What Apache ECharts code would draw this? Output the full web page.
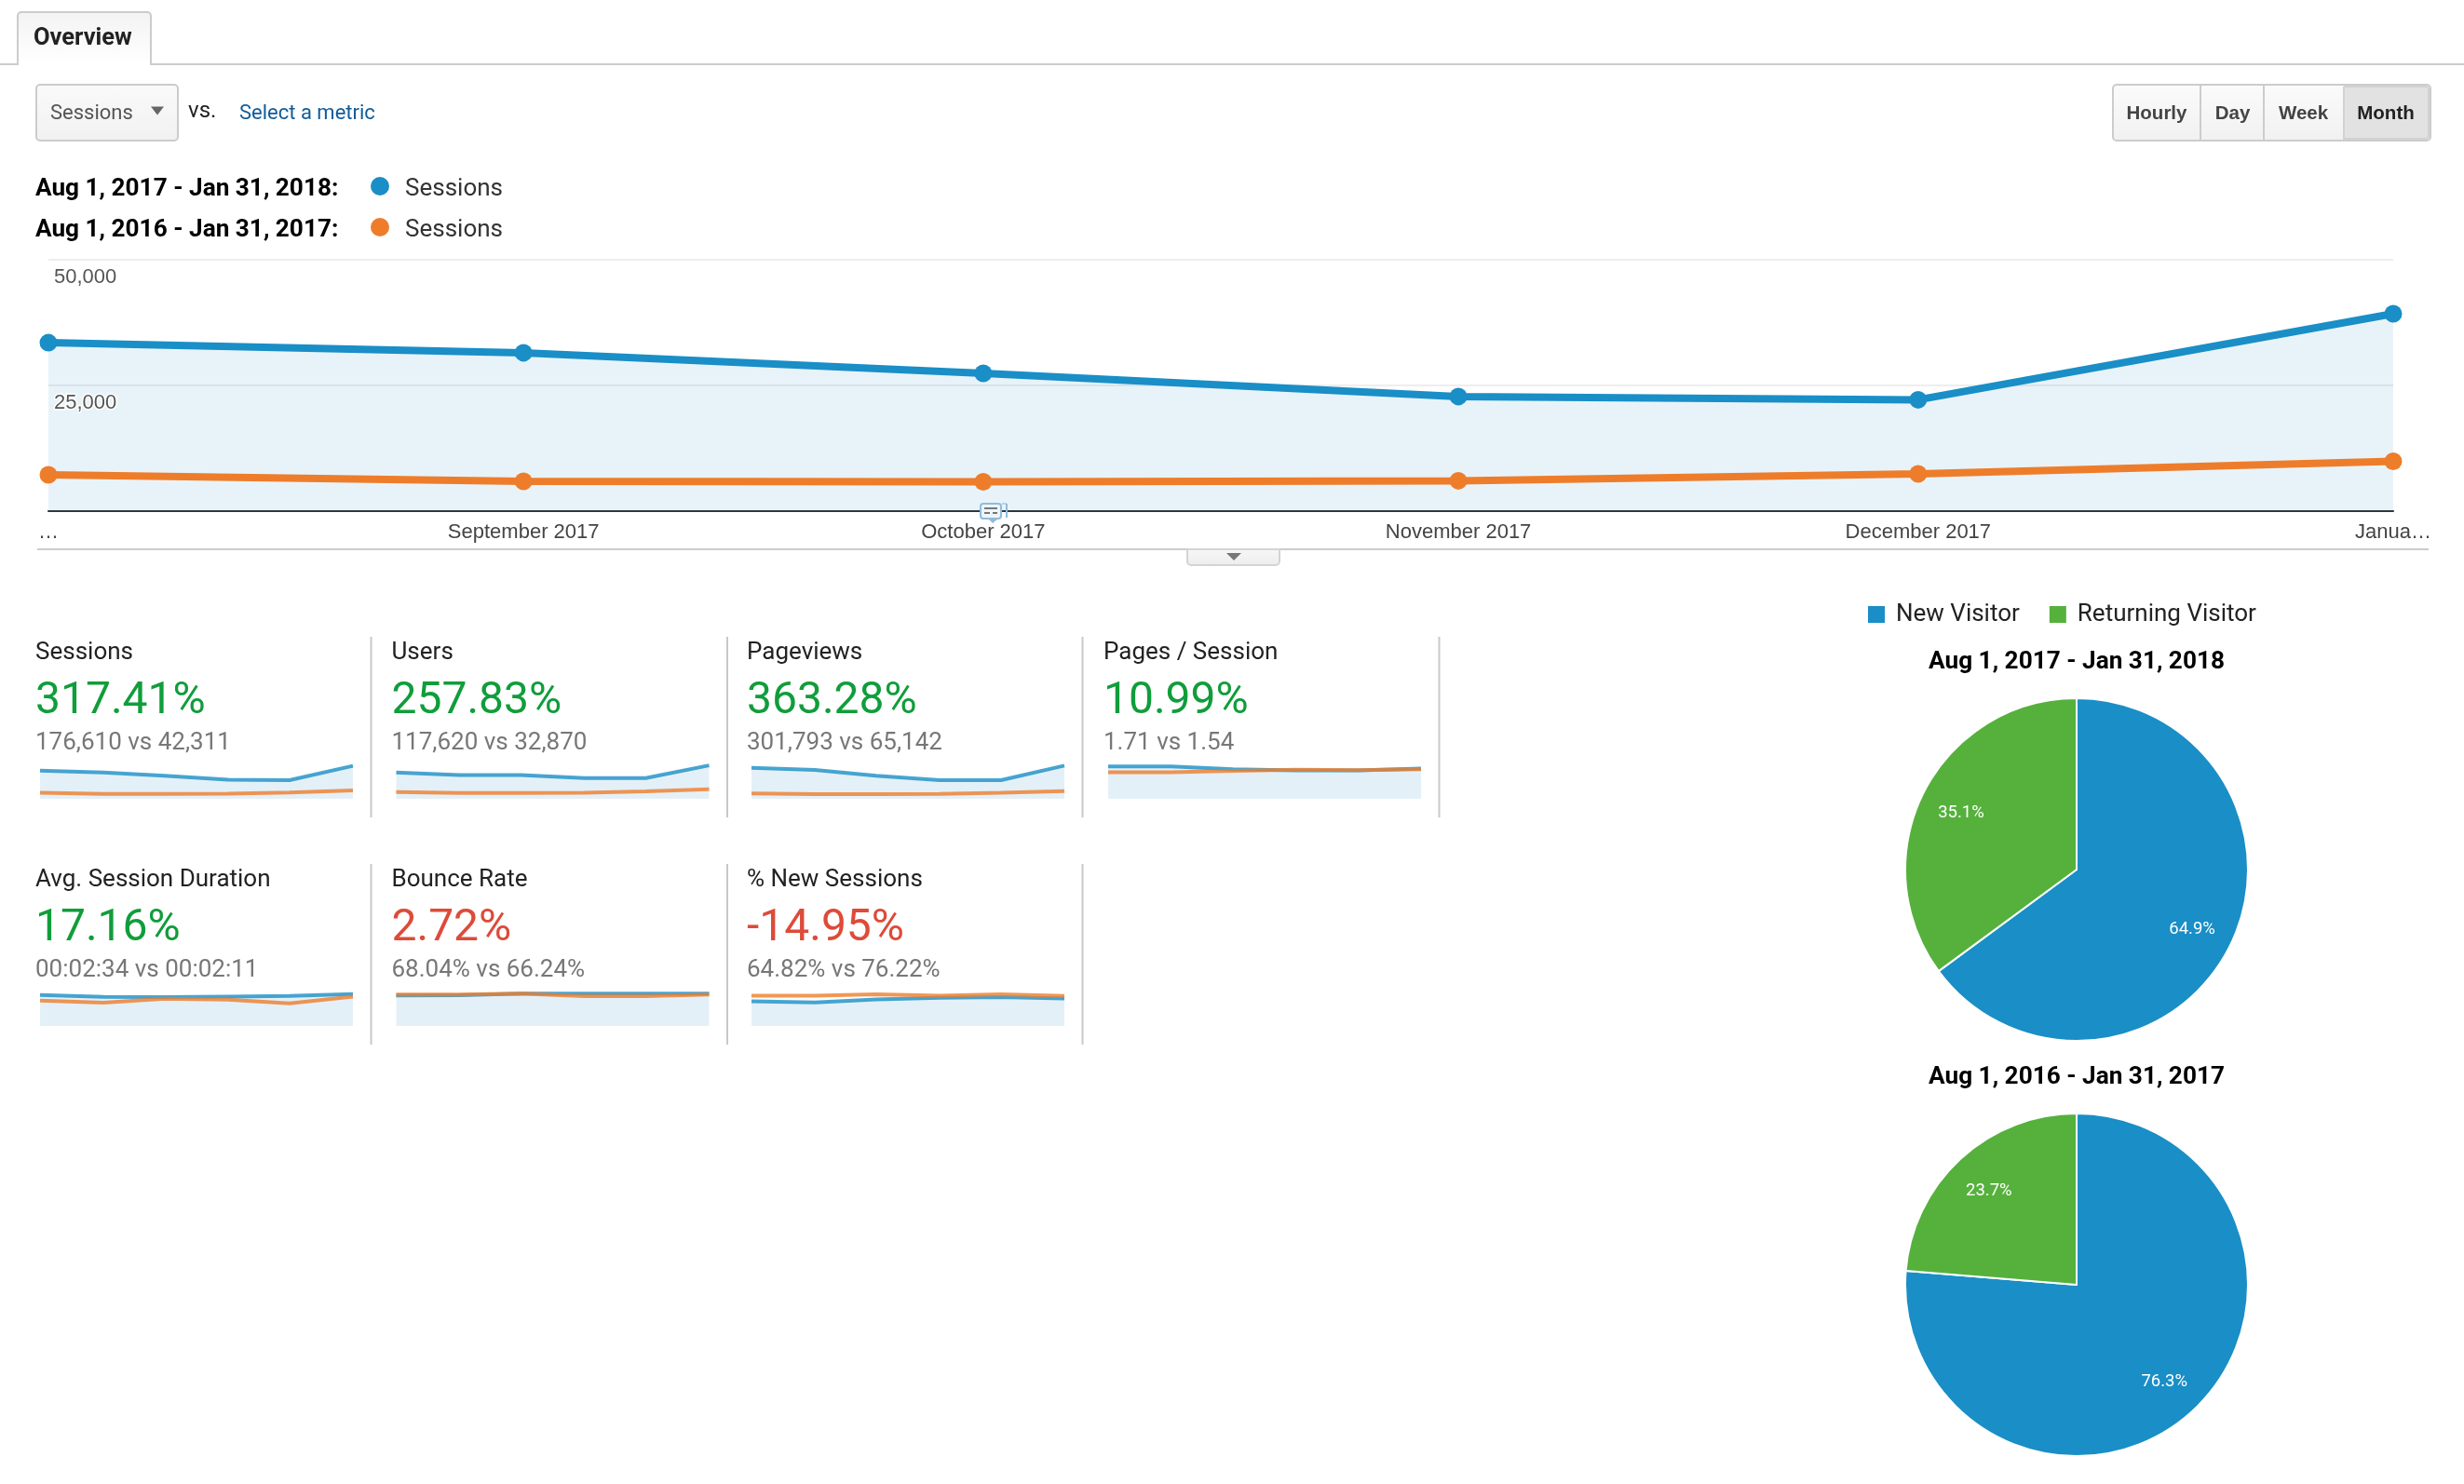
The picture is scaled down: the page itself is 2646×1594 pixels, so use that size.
<!DOCTYPE html>
<html>
<head>
<meta charset="utf-8">
<title>Overview</title>
<script src="https://cdn.jsdelivr.net/npm/echarts@6/dist/echarts.min.js"></script>
<style>
    html, body { margin: 0; padding: 0; background: #fff; }
    #main { width: 2646px; height: 1594px; }
</style>
</head>
<body>
<div id="main"></div>
<script>
var months = ['2017-08-01', '2017-09-01', '2017-10-01', '2017-11-01', '2017-12-01', '2018-01-01'];
var monthLabels = ['…', 'September 2017', 'October 2017', 'November 2017', 'December 2017', 'Janua…'];
var yTicks = ['', '25,000', '50,000'];

var sessionsNow = [33500, 31500, 27400, 22800, 22150, 39260];
var sessionsPrev = [7220, 5930, 5830, 6040, 7400, 9891];
var usersNow = [20860, 18850, 18850, 16340, 16340, 26380];
var usersPrev = [5300, 4650, 4650, 4700, 5950, 7620];
var pageviewsNow = [60980, 56630, 45430, 36710, 36710, 65333];
var pageviewsPrev = [10640, 8960, 8960, 9520, 11760, 15302];
var pagesPerNow = [1.83, 1.83, 1.67, 1.61, 1.61, 1.72];
var pagesPerPrev = [1.50, 1.50, 1.58, 1.65, 1.62, 1.67];
var durationNow = [159, 149, 148, 151, 154, 164];
var durationPrev = [130, 120, 140, 135, 116, 151];
var bounceNow = [64.4, 65.0, 68.3, 68.3, 68.3, 68.3];
var bouncePrev = [66.4, 66.4, 68.4, 63.0, 63.0, 66.4];
var newSessNow = [61.3, 58.2, 65.9, 69.8, 71.4, 68.2];
var newSessPrev = [75.2, 75.2, 78.3, 75.2, 78.3, 74.5];

var cardTitles = ['Sessions', 'Users', 'Pageviews', 'Pages / Session', 'Avg. Session Duration', 'Bounce Rate', '% New Sessions'];
var cardChanges = ['317.41%', '257.83%', '363.28%', '10.99%', '17.16%', '2.72%', '-14.95%'];
var cardCompare = ['176,610 vs 42,311', '117,620 vs 32,870', '301,793 vs 65,142', '1.71 vs 1.54', '00:02:34 vs 00:02:11', '68.04% vs 66.24%', '64.82% vs 76.22%'];
var cardNow = [sessionsNow, usersNow, pageviewsNow, pagesPerNow, durationNow, bounceNow, newSessNow];
var cardPrev = [sessionsPrev, usersPrev, pageviewsPrev, pagesPerPrev, durationPrev, bouncePrev, newSessPrev];
var cardMax = [40000, 26500, 66000, 1.9, 172, 71, 83];
var cardBad = [false, false, false, false, false, true, true];

var visitorNames = ['New Visitor', 'Returning Visitor'];
var rangeNow = 'Aug 1, 2017 - Jan 31, 2018';
var rangePrev = 'Aug 1, 2016 - Jan 31, 2017';
var visitorsNow = [64.9, 35.1];
var visitorsPrev = [76.3, 23.7];

var BLUE = '#1a8ec6', ORANGE = '#ee7d2b', GREEN = '#55b13c';
var GOOD_TEXT = '#109d3b', BAD_TEXT = '#dd4b39';
var FONT = 'Roboto';

// x axes are plain value axes holding timestamps, so month lengths keep their spacing
function toTime(s) {
    return new Date(s + 'T00:00:00').getTime();
}
function pairs(values) {
    return values.map(function (v, i) {
        return [toTime(months[i]), v];
    });
}

var graphics = [];

function txt(x, y, text, size, color, weight, align, family) {
    graphics.push({
        type: 'text', x: x, y: y, silent: true, z: 20,
        style: {
            text: text,
            font: (weight || 'normal') + ' ' + size + 'px "' + (family || FONT) + '"',
            fill: color,
            align: align || 'left',
            textAlign: align || 'left',
            verticalAlign: 'middle',
            textVerticalAlign: 'middle'
        }
    });
}
function ln(x1, y1, x2, y2, color, w, z) {
    graphics.push({
        type: 'line', silent: true, z: z || 1,
        shape: { x1: x1, y1: y1, x2: x2, y2: y2 },
        style: { stroke: color, lineWidth: w || 2 }
    });
}
function box(x, y, w, h, r, fill, stroke, z) {
    graphics.push({
        type: 'rect', silent: true, z: z || 1,
        shape: { x: x, y: y, width: w, height: h, r: r },
        style: { fill: fill, stroke: stroke, lineWidth: stroke ? 2 : 0 }
    });
}
function grad(top, bottom) {
    return new echarts.graphic.LinearGradient(0, 0, 0, 1, [
        { offset: 0, color: top },
        { offset: 1, color: bottom }
    ]);
}
function tri(x, y, w, h, color) {
    graphics.push({
        type: 'polygon', silent: true, z: 5,
        shape: { points: [[x - w / 2, y - h / 2], [x + w / 2, y - h / 2], [x, y + h / 2]] },
        style: { fill: color }
    });
}

// tab strip
ln(0, 69, 2646, 69, '#cccccc', 2);
box(19, 13, 143, 56, [4, 4, 0, 0], grad('#f3f3f3', '#ffffff'), '#cccccc', 2);
ln(20, 69, 161, 69, '#ffffff', 3, 3);
txt(36, 42, 'Overview', 25.5, '#222222', 'bold');

// metric selector
box(39, 91, 152, 60, 4, grad('#fafafa', '#f1f1f1'), '#cccccc');
txt(54, 122, 'Sessions', 22, '#555555');
tri(169, 119, 14, 9, '#666666');
txt(202, 120, 'vs.', 24, '#222222');
txt(257, 122, 'Select a metric', 22, '#0f5c9a');

// hourly..month buttons
box(2269, 91, 341, 60, 4, grad('#fbfbfb', '#f1f1f1'), '#cccccc');
box(2517, 93, 91, 56, [0, 3, 3, 0], '#e2e2e2', '#d2d2d2', 2);
ln(2363, 92, 2363, 150, '#cccccc', 2);
ln(2431, 92, 2431, 150, '#cccccc', 2);
txt(2316, 122, 'Hourly', 20.5, '#444444', 'bold', 'center', 'Liberation Sans');
txt(2397.5, 122, 'Day', 20.5, '#444444', 'bold', 'center', 'Liberation Sans');
txt(2473.5, 122, 'Week', 20.5, '#444444', 'bold', 'center', 'Liberation Sans');
txt(2562, 122, 'Month', 20.5, '#222222', 'bold', 'center', 'Liberation Sans');

// date range legend of the top chart
txt(38, 203, rangeNow + ':', 26.2, '#000000', 'bold');
txt(38, 247, rangePrev + ':', 26.2, '#000000', 'bold');
[[200, BLUE], [244, ORANGE]].forEach(function (row) {
    graphics.push({
        type: 'circle', silent: true, z: 5,
        shape: { cx: 408, cy: row[0], r: 10 },
        style: { fill: row[1] }
    });
    txt(435, row[0] + 3, 'Sessions', 26, '#333333');
});

// rule under the chart and its little collapse button
ln(40, 590, 2608, 590, '#cccccc', 2);
box(1275, 590, 99, 17, [0, 0, 4, 4], grad('#f8f8f8', '#ececec'), '#d4d4d4', 0);
tri(1325, 598, 16, 8, '#777777');

// annotation marker on the axis
box(1053, 541, 22, 16, 3, '#eef5fa', '#8fbcdc', 10);
ln(1076, 541, 1081, 541, '#b5d3e8', 2, 10);
ln(1081, 541, 1081, 556, '#8fbcdc', 2, 10);
ln(1057, 546, 1071, 546, '#777777', 2, 11);
ln(1057, 551, 1063, 551, '#777777', 2, 11);
ln(1066, 551, 1071, 551, '#777777', 2, 11);
graphics.push({
    type: 'polygon', silent: true, z: 10,
    shape: { points: [[1061, 557], [1072, 557], [1066, 562]] },
    style: { fill: '#8fbcdc' }
});

var cardX = [38, 420.5, 802, 1185];
var cardRowY = [0, 244];
var cardBoxes = [];
cardTitles.forEach(function (title, i) {
    var col = i < 4 ? i : i - 4;
    var row = i < 4 ? 0 : 1;
    var x = cardX[col];
    var dy = cardRowY[row];
    txt(x, 701.5 + dy, title, 26, '#222222');
    txt(x, 754 + dy, cardChanges[i], 48, cardBad[i] ? BAD_TEXT : GOOD_TEXT);
    txt(x, 798 + dy, cardCompare[i], 26, '#777777');
    ln(x + 360.5, 684 + dy, x + 360.5, 878 + dy, '#c8c8c8', 2);
    cardBoxes.push({ left: x + 5, top: 822 + dy, width: 336, height: 36 });
});

// main chart goes first, sparklines follow on grids 1..7
var grids = [{ left: 52, top: 279, width: 2518, height: 270 }];
var xAxes = [{
    type: 'value',
    scale: true,
    min: toTime(months[0]),
    max: toTime(months[5]),
    axisLine: { onZero: false, lineStyle: { color: '#333333', width: 2 } },
    axisTick: { show: false },
    splitLine: { show: false },
    axisLabel: {
        customValues: months.map(toTime),
        formatter: function (value) {
            for (var i = 0; i < months.length; i++) {
                if (toTime(months[i]) == value) return monthLabels[i];
            }
            return '';
        },
        color: '#444444',
        fontFamily: 'Liberation Sans',
        fontSize: 22,
        margin: 12,
        hideOverlap: false
    }
}];
var yAxes = [{
    type: 'value',
    min: 0,
    max: 50000,
    interval: 25000,
    axisLine: { show: false },
    axisTick: { show: false },
    axisLabel: { show: false },
    splitLine: { lineStyle: { color: '#eeeeee', width: 2 } }
}];

var seriesList = [
    {
        name: 'Sessions', type: 'line', xAxisIndex: 0, yAxisIndex: 0, z: 3,
        data: pairs(sessionsNow),
        symbol: 'circle', symbolSize: 19, showSymbol: true, clip: false,
        lineStyle: { color: BLUE, width: 8 },
        itemStyle: { color: BLUE },
        areaStyle: { color: 'rgba(26,142,198,0.1)', opacity: 1 }
    },
    {
        name: 'Sessions', type: 'line', xAxisIndex: 0, yAxisIndex: 0, z: 4,
        data: pairs(sessionsPrev),
        symbol: 'circle', symbolSize: 19, showSymbol: true, clip: false,
        lineStyle: { color: ORANGE, width: 8 },
        itemStyle: { color: ORANGE }
    }
];

cardBoxes.forEach(function (b, i) {
    grids.push(b);
    xAxes.push({
        type: 'value', gridIndex: i + 1, scale: true,
        min: toTime(months[0]), max: toTime(months[5]),
        show: false
    });
    yAxes.push({
        type: 'value', gridIndex: i + 1,
        min: 0, max: cardMax[i],
        show: false
    });
    seriesList.push({
        name: cardTitles[i], type: 'line', xAxisIndex: i + 1, yAxisIndex: i + 1,
        data: pairs(cardNow[i]),
        showSymbol: false, silent: true,
        lineStyle: { color: BLUE, width: 4, opacity: 0.8 },
        itemStyle: { color: BLUE },
        areaStyle: { color: '#e4f0f8', opacity: 1 }
    });
    seriesList.push({
        name: cardTitles[i], type: 'line', xAxisIndex: i + 1, yAxisIndex: i + 1,
        data: pairs(cardPrev[i]),
        showSymbol: false, silent: true,
        lineStyle: { color: ORANGE, width: 4, opacity: 0.8 },
        itemStyle: { color: ORANGE }
    });
});

// second y axis on the main grid, only so the tick labels sit over the area fill
yAxes.push({
    type: 'value',
    gridIndex: 0,
    position: 'left',
    z: 10,
    min: 0,
    max: 50000,
    interval: 25000,
    axisLine: { show: false },
    axisTick: { show: false },
    splitLine: { show: false },
    axisLabel: {
        inside: true,
        margin: 6,
        color: '#555555',
        fontFamily: 'Liberation Sans',
        fontSize: 22,
        verticalAlign: 'top',
        padding: [8, 0, 0, 0],
        textBorderColor: '#ffffff',
        textBorderWidth: 3,
        formatter: function (value) {
            return yTicks[value / 25000];
        }
    }
});

function pieSeries(values, centerY) {
    var total = values[0] + values[1];
    return {
        type: 'pie',
        center: [2230, centerY],
        radius: [0, 184],
        startAngle: 90,
        clockwise: true,
        percentPrecision: 1,
        avoidLabelOverlap: false,
        color: [BLUE, GREEN],
        itemStyle: { borderColor: '#ffffff', borderWidth: 2 },
        label: {
            position: 'inside',
            formatter: '{d}%',
            color: '#ffffff',
            fontFamily: FONT,
            fontSize: 18.5
        },
        labelLine: { show: false },
        labelLayout: function (params) {
            // google style: the label sits out towards the rim, not at half radius
            var before = params.dataIndex == 0 ? 0 : values[0];
            var mid = (before + values[params.dataIndex] / 2) / total * Math.PI * 2;
            return {
                x: 2230 + Math.sin(mid) * 139,
                y: centerY + 2 - Math.cos(mid) * 139,
                align: 'center',
                verticalAlign: 'middle'
            };
        },
        data: values.map(function (v, i) {
            return { name: visitorNames[i], value: v };
        })
    };
}
seriesList.push(pieSeries(visitorsNow, 934));
seriesList.push(pieSeries(visitorsPrev, 1380));

var option = {
    animation: false,
    backgroundColor: '#ffffff',
    textStyle: { fontFamily: FONT },
    title: [
        {
            text: rangeNow, left: 2230, top: 698, textAlign: 'center', padding: 0,
            textStyle: { fontFamily: FONT, fontSize: 26.2, fontWeight: 'bold', color: '#000000' }
        },
        {
            text: rangePrev, left: 2230, top: 1144, textAlign: 'center', padding: 0,
            textStyle: { fontFamily: FONT, fontSize: 26.2, fontWeight: 'bold', color: '#000000' }
        }
    ],
    legend: {
        data: visitorNames,
        left: 2004,
        top: 647,
        padding: 0,
        itemWidth: 20,
        itemHeight: 20,
        itemGap: 30,
        icon: 'rect',
        selectedMode: false,
        textStyle: { fontFamily: FONT, fontSize: 26, color: '#222222', padding: [0, 0, 0, 6] }
    },
    grid: grids,
    xAxis: xAxes,
    yAxis: yAxes,
    series: seriesList,
    graphic: { elements: graphics }
};

window.onload = function () {
    var myChart = echarts.init(document.getElementById('main'));
    myChart.setOption(option);
};
</script>
</body>
</html>
